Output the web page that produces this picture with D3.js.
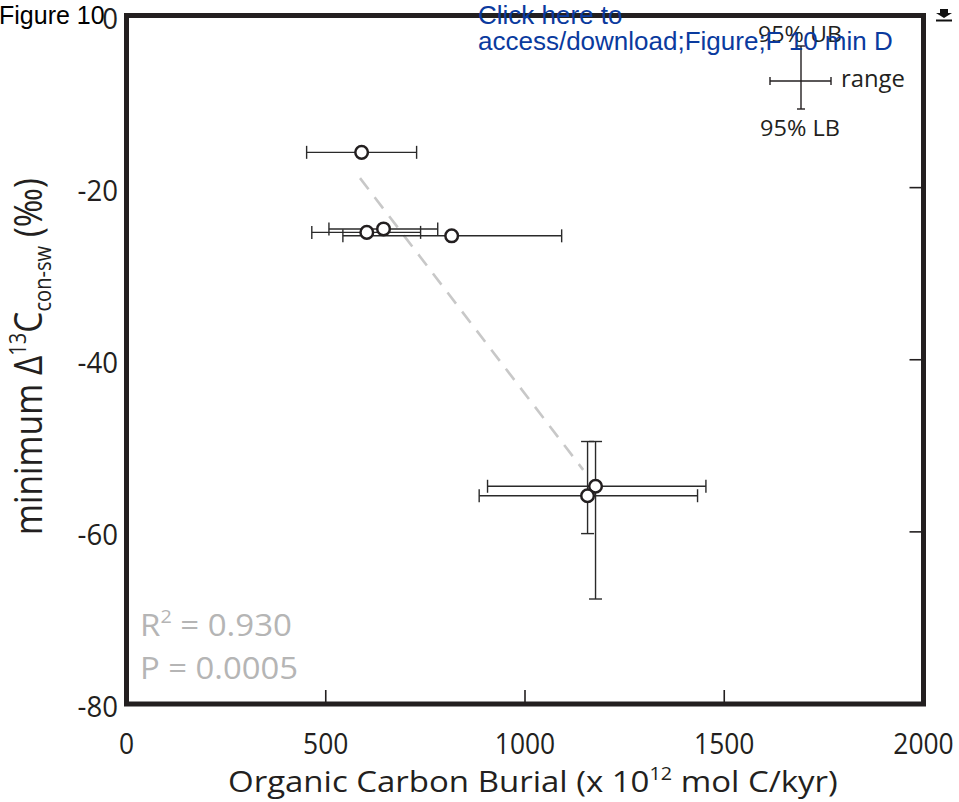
<!DOCTYPE html>
<html><head><meta charset="utf-8">
<script src="https://cdn.jsdelivr.net/npm/d3@7"></script>
<style>html,body{margin:0;padding:0;background:#fff;overflow:hidden}</style>
</head><body>
<svg id="c" width="959" height="802"></svg>
<script>
// ---- data ----
const burial    = [590, 603, 645, 816, 1177, 1157];
const burialMin = [452, 465, 508, 543, 906, 885];
const burialMax = [728, 738, 781, 1092, 1454, 1433];
const delta     = [-15.9, -25.2, -24.8, -25.6, -54.7, -55.8];
const deltaUB   = [null, null, null, null, -49.5, -49.5];
const deltaLB   = [null, null, null, null, -67.8, -60.2];
const fitBurial = [586, 1146];
const fitDelta  = [-18.9, -52.8];
const xTicks = [0, 500, 1000, 1500, 2000];
const yTicks = [0, -20, -40, -60, -80];
const innerXTicks = [500, 1000, 1500];
const innerYTicks = [-20, -40, -60];

const MYR = "'Open Sans','Noto Sans',sans-serif";
const ARIAL = "'Liberation Sans',Arial,sans-serif";
const INK = "#231f20";

const svg = d3.select('#c');
const x = d3.scaleLinear().domain([0, 2000]).range([126.5, 923.5]);
const y = d3.scaleLinear().domain([0, -80]).range([15.5, 704]);

function label(parent, o) {
  const g = parent.append('g').attr('transform', `translate(${o.x},${o.y}) rotate(${o.rotate || 0})`);
  const inner = g.append('g');
  const t = inner.append('text').attr('font-family', o.family || MYR)
    .attr('font-size', o.size).attr('fill', o.color || INK);
  let cur = 0;
  o.parts.forEach(p => {
    const kind = p[1] || 'n';
    const off = kind === 'sup' ? -0.42 * o.size : kind === 'sub' ? 0.24 * o.size : 0;
    t.append('tspan').text(p[0]).attr('dy', off - cur)
      .attr('font-size', kind === 'n' ? o.size : o.size * 0.6);
    cur = off;
  });
  const w = t.node().getBBox().width;
  const sx = o.width ? o.width / w : (o.sx || 1);
  let tx = 0;
  if (o.anchor === 'middle') tx = -w * sx / 2; else if (o.anchor === 'end') tx = -w * sx;
  inner.attr('transform', `translate(${tx},0) scale(${sx},1)`);
  return g;
}

// regression line (dashed)
svg.append('path')
  .attr('d', d3.line().x(d => x(d[0])).y(d => y(d[1]))(fitBurial.map((b, i) => [b, fitDelta[i]])))
  .attr('stroke', '#c8c8c8').attr('stroke-width', 2.6).attr('stroke-dasharray', '14,10').attr('fill', 'none');

// error bars
const eb = svg.append('g').attr('stroke', '#2a2a2a').attr('stroke-width', 1.4).attr('fill', 'none');
const cap = 6.5;
burial.forEach((b, i) => {
  const yy = y(delta[i]);
  eb.append('line').attr('x1', x(burialMin[i])).attr('x2', x(burialMax[i])).attr('y1', yy).attr('y2', yy);
  [burialMin[i], burialMax[i]].forEach(v => eb.append('line')
    .attr('x1', x(v)).attr('x2', x(v)).attr('y1', yy - cap).attr('y2', yy + cap));
  if (deltaUB[i] != null) {
    const xx = x(b);
    eb.append('line').attr('x1', xx).attr('x2', xx).attr('y1', y(deltaUB[i])).attr('y2', y(deltaLB[i]));
    [deltaUB[i], deltaLB[i]].forEach(v => eb.append('line')
      .attr('x1', xx - cap).attr('x2', xx + cap).attr('y1', y(v)).attr('y2', y(v)));
  }
});

// points
svg.append('g').selectAll('circle').data(burial).join('circle')
  .attr('cx', d => x(d)).attr('cy', (d, i) => y(delta[i])).attr('r', 6.3)
  .attr('fill', '#fff').attr('stroke', INK).attr('stroke-width', 2.5);

// frame
svg.append('rect').attr('x', x(0)).attr('y', y(0)).attr('width', x(2000) - x(0)).attr('height', y(-80) - y(0))
  .attr('fill', 'none').attr('stroke', INK).attr('stroke-width', 5);

// inner ticks
const tk = svg.append('g').attr('stroke', INK).attr('stroke-width', 1.6);
innerXTicks.forEach(v => tk.append('line').attr('x1', x(v)).attr('x2', x(v)).attr('y1', y(-80)).attr('y2', y(-80) - 14));
innerYTicks.forEach(v => tk.append('line').attr('y1', y(v)).attr('y2', y(v)).attr('x1', x(2000)).attr('x2', x(2000) - 14));

// tick labels
xTicks.forEach(v => label(svg, { x: x(v), y: 754, size: 30, anchor: 'middle', sx: 0.88, parts: [[String(v)]] }));
yTicks.forEach(v => label(svg, { x: 118, y: y(v) + 13, size: 30, anchor: 'end', sx: 0.92, parts: [[String(v)]] }));

// axis titles
label(svg, { x: 228, y: 792, size: 29, width: 610,
  parts: [['Organic Carbon Burial (x 10'], ['12', 'sup'], [' mol C/kyr)']] });
label(svg, { x: 42, y: 535, size: 38, rotate: -90, width: 357,
  parts: [['minimum \u0394'], ['13', 'sup'], ['C'], ['con-sw', 'sub'], [' (\u2030)']] });

// statistics
label(svg, { x: 140, y: 636, size: 31, width: 152, color: '#b5b5b5', parts: [['R'], ['2', 'sup'], [' = 0.930']] });
label(svg, { x: 140, y: 679, size: 31, width: 158, color: '#b5b5b5', parts: [['P = 0.0005']] });

// legend (error-bar key)
const lg = svg.append('g').attr('stroke', INK).attr('stroke-width', 1.4);
const lcx = 801, lcy = 81;
lg.append('line').attr('x1', 770).attr('x2', 831).attr('y1', lcy).attr('y2', lcy);
lg.append('line').attr('x1', 770).attr('x2', 770).attr('y1', lcy - 4).attr('y2', lcy + 4);
lg.append('line').attr('x1', 831).attr('x2', 831).attr('y1', lcy - 4).attr('y2', lcy + 4);
lg.append('line').attr('x1', lcx).attr('x2', lcx).attr('y1', 46).attr('y2', 109);
lg.append('line').attr('x1', lcx - 4).attr('x2', lcx + 4).attr('y1', 46).attr('y2', 46);
lg.append('line').attr('x1', lcx - 4).attr('x2', lcx + 4).attr('y1', 109).attr('y2', 109);
label(svg, { x: 800, y: 42, size: 22, anchor: 'middle', width: 84, parts: [['95% UB']] });
label(svg, { x: 800, y: 136, size: 22, anchor: 'middle', width: 80, parts: [['95% LB']] });
label(svg, { x: 841, y: 87, size: 23, width: 64, parts: [['range']] });

// page annotations
svg.append('text').attr('x', -1).attr('y', 24).attr('font-family', ARIAL).attr('font-size', 25)
  .attr('fill', '#000').text('Figure 10');
const blue = '#0a3a9e';
svg.append('text').attr('x', 478).attr('y', 24).attr('font-family', ARIAL).attr('font-size', 26)
  .attr('fill', blue).text('Click here to');
svg.append('text').attr('x', 478).attr('y', 50).attr('font-family', ARIAL).attr('font-size', 26)
  .attr('fill', blue).text('access/download;Figure;F 10 min D');
// download icon
svg.append('path').attr('d', 'M940,9 h8 v4 h4 l-8,5 l-8,-5 h4 z').attr('fill', '#111');
svg.append('rect').attr('x', 936).attr('y', 19.5).attr('width', 16).attr('height', 2).attr('fill', '#111');
</script>
</body></html>
